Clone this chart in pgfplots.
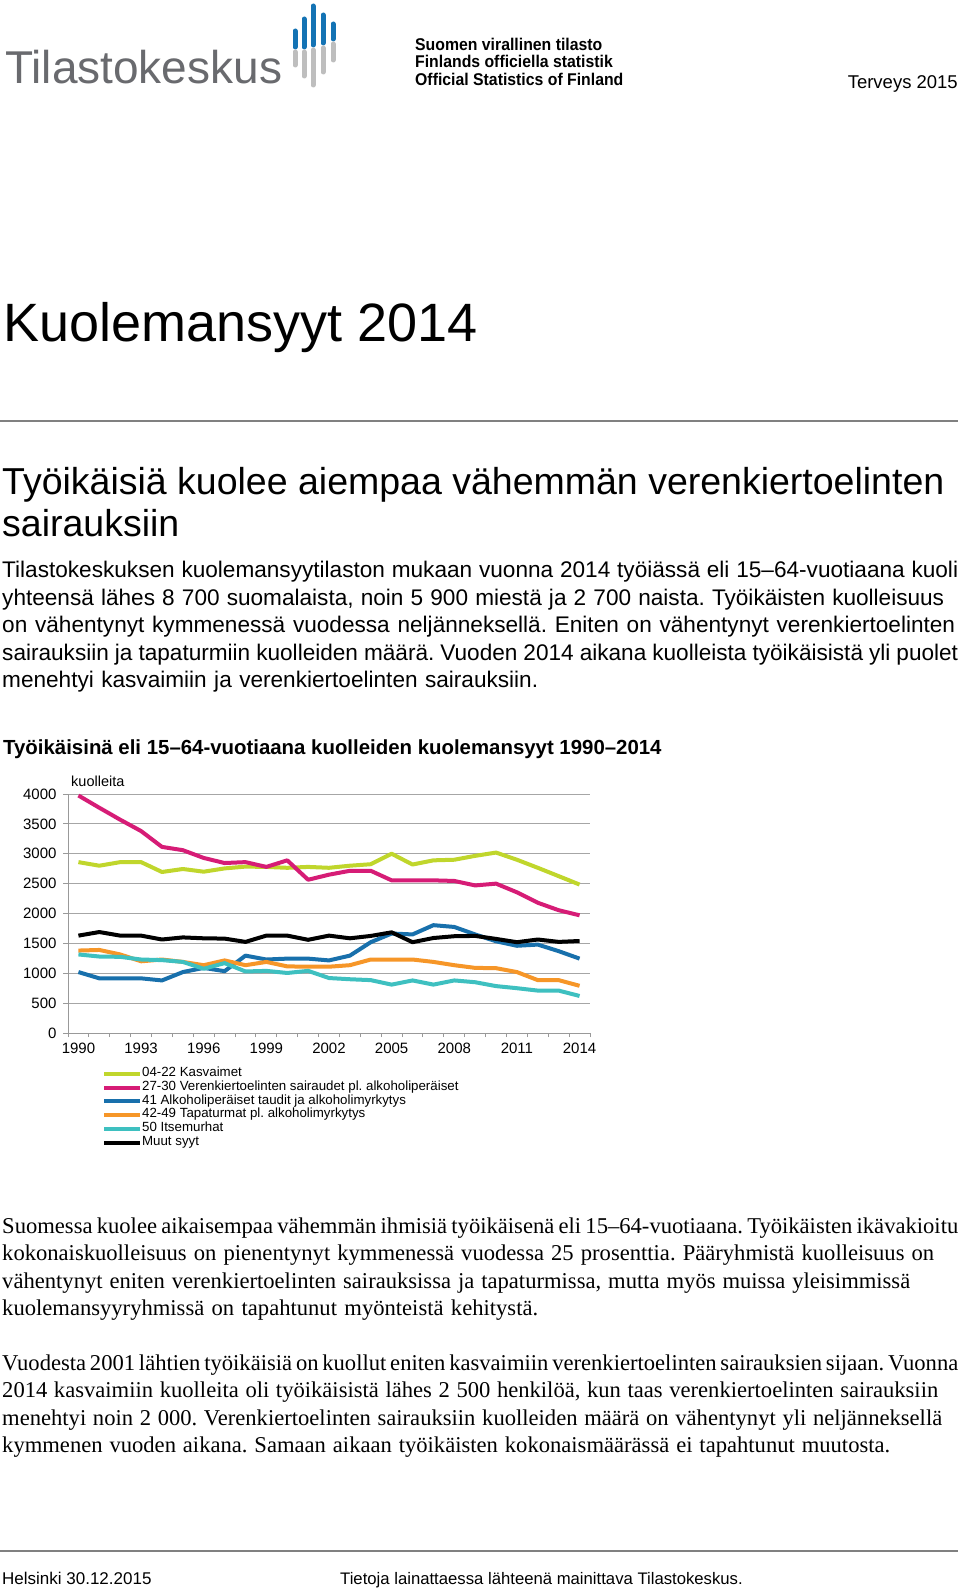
\documentclass[border=0pt]{standalone}
\usepackage{fontspec}
\setmainfont{Liberation Sans}
\newfontfamily\serif{Liberation Serif}
\usepackage{pgfplots}
\pgfplotsset{compat=1.18}
\usepackage{pgfplotstable}
\definecolor{cgreen}{RGB}{192,214,44}
\definecolor{cmag}{RGB}{214,28,118}
\definecolor{cblue}{RGB}{24,112,172}
\definecolor{corange}{RGB}{246,150,40}
\definecolor{cteal}{RGB}{62,192,192}
\definecolor{logoblue}{RGB}{20,115,180}
\definecolor{logogray}{RGB}{190,190,190}
\definecolor{txtgray}{RGB}{105,106,110}
\newcommand\jl[2]{\hbox to #1pt{\spaceskip=0.25em plus 0.3em minus 0.12em\relax #2}}
\frenchspacing

\pgfplotstableread{
year kasv veren alko tapat itse muut
1990 2860 3975 1020 1380 1315 1630
1991 2800 3770 915 1390 1280 1690
1992 2860 3570 915 1315 1275 1630
1993 2860 3380 915 1200 1230 1630
1994 2695 3115 880 1230 1220 1565
1995 2745 3060 1020 1190 1190 1600
1996 2700 2930 1090 1135 1075 1585
1997 2755 2845 1035 1215 1170 1580
1998 2785 2860 1295 1135 1030 1525
1999 2780 2780 1230 1190 1040 1630
2000 2765 2890 1245 1115 1005 1630
2001 2780 2565 1245 1110 1040 1560
2002 2765 2650 1215 1110 920 1630
2003 2800 2715 1295 1135 900 1585
2004 2825 2715 1520 1230 885 1625
2005 3000 2555 1665 1230 810 1685
2006 2820 2555 1650 1230 880 1520
2007 2890 2555 1805 1190 810 1590
2008 2900 2545 1775 1135 880 1620
2009 2965 2470 1650 1090 850 1625
2010 3020 2500 1535 1085 785 1575
2011 2900 2355 1460 1020 750 1520
2012 2765 2180 1480 885 710 1565
2013 2625 2055 1370 885 710 1525
2014 2485 1970 1245 790 620 1540
}\datatable

\begin{document}
\begin{tikzpicture}[x=1pt,y=1pt]
\path[fill=white,use as bounding box] (0,0) rectangle (960,-1592);

% logo
\node[anchor=base west,inner sep=0,text=txtgray,font=\fontsize{46}{46}\selectfont] at (5,-84) {Tilastokeskus};
\foreach \xx/\bt/\bb/\gb in {295/31/47/65, 304/19/47/76, 313/6/45/85, 323/15/43/72, 333/24/39/60}{
  \draw[logoblue,line width=5pt,line cap=round] (\xx,-\bt) -- (\xx,-\bb);
  \draw[logogray,line width=5pt,line cap=round] (\xx,-\bb-5) -- (\xx,-\gb);
}
\node[anchor=base west,inner sep=0,xscale=0.93,font=\fontsize{17}{17}\selectfont\bfseries] at (415,-51) {Suomen virallinen tilasto};
\node[anchor=base west,inner sep=0,xscale=0.93,font=\fontsize{17}{17}\selectfont\bfseries] at (415,-68) {Finlands officiella statistik};
\node[anchor=base west,inner sep=0,xscale=0.93,font=\fontsize{17}{17}\selectfont\bfseries] at (415,-86) {Official Statistics of Finland};
\node[anchor=base east,inner sep=0,font=\fontsize{18.5}{18.5}\selectfont] at (958,-89) {Terveys 2015};

% title
\node[anchor=base west,inner sep=0,font=\fontsize{54}{54}\selectfont] at (3,-341) {Kuolemansyyt 2014};
\draw[gray,line width=1.2pt] (0,-421) -- (958,-421);

\node[anchor=base west,inner sep=0,font=\fontsize{37.5}{37.5}\selectfont] at (2,-494) {Työikäisiä kuolee aiempaa vähemmän verenkiertoelinten};
\node[anchor=base west,inner sep=0,font=\fontsize{37.5}{37.5}\selectfont] at (2,-536) {sairauksiin};

\begin{scope}[every node/.style={anchor=base west,inner sep=0,font=\fontsize{22.6}{22.6}\selectfont}]
\node at (2,-577) {\jl{956}{Tilastokeskuksen kuolemansyytilaston mukaan vuonna 2014 työiässä eli 15–64-vuotiaana kuoli}};
\node at (2,-605) {\jl{942}{yhteensä lähes 8 700 suomalaista, noin 5 900 miestä ja 2 700 naista. Työikäisten kuolleisuus}};
\node at (2,-632) {\jl{953}{on vähentynyt kymmenessä vuodessa neljänneksellä. Eniten on vähentynyt verenkiertoelinten}};
\node at (2,-660) {\jl{956}{sairauksiin ja tapaturmiin kuolleiden määrä. Vuoden 2014 aikana kuolleista työikäisistä yli puolet}};
\node at (2,-687) {\jl{536}{menehtyi kasvaimiin ja verenkiertoelinten sairauksiin.}};
\end{scope}

\node[anchor=base west,inner sep=0,font=\fontsize{20.4}{20.4}\selectfont\bfseries] at (3,-754) {Työikäisinä eli 15–64-vuotiaana kuolleiden kuolemansyyt 1990–2014};
\node[anchor=base west,inner sep=0,font=\fontsize{14.5}{14.5}\selectfont] at (71,-786) {kuolleita};

\begin{axis}[
  at={(68pt,-1033pt)}, anchor=south west,
  scale only axis, width=522pt, height=239pt,
  xmin=1989.5, xmax=2014.5, ymin=0, ymax=4000,
  axis x line*=bottom, axis y line*=left,
  axis line style={draw=gray!80, line width=1pt},
  ytick={0,500,...,4000},
  ymajorgrids, grid style={gray!70, line width=1pt},
  xtick={1990,1993,...,2014},
  minor xtick={1989.5,1990.5,...,2014.5},
  major x tick style={draw=none},
  minor tick length=4pt,
  minor x tick style={gray!80, line width=1pt},
  major tick length=5pt,
  y tick style={gray!80, line width=1pt},
  tick align=outside,
  xticklabel style={/pgf/number format/1000 sep={}},
  yticklabel style={/pgf/number format/1000 sep={}},
  /pgf/number format/assume math mode=true,
  tick label style={font=\fontsize{15}{15}\selectfont},
  xticklabel style={yshift=-1pt},
  yticklabel style={xshift=-3pt},
  clip=false,
  legend style={at={(rel axis cs:0.065,-0.142)}, anchor=north west, draw=none, fill=none,
     font=\fontsize{13.3}{13.3}\selectfont, inner sep=0pt, row sep=0pt,
     nodes={inner sep=0pt, text height=9.7pt, text depth=4pt}},
  legend cell align=left,
  legend image code/.code={\draw[#1, line width=4pt] (0pt,0pt) -- (36pt,0pt);},
  every axis plot/.append style={line width=4pt, line join=round},
]
\addplot[cgreen, mark=none] table[x=year,y=kasv] {\datatable};
\addplot[cmag, mark=none] table[x=year,y=veren] {\datatable};
\addplot[cblue, mark=none] table[x=year,y=alko] {\datatable};
\addplot[corange, mark=none] table[x=year,y=tapat] {\datatable};
\addplot[cteal, mark=none] table[x=year,y=itse] {\datatable};
\addplot[black, mark=none] table[x=year,y=muut] {\datatable};
\legend{04-22 Kasvaimet,27-30 Verenkiertoelinten sairaudet pl. alkoholiperäiset,41 Alkoholiperäiset taudit ja alkoholimyrkytys,42-49 Tapaturmat pl. alkoholimyrkytys,50 Itsemurhat,Muut syyt}
\end{axis}

\begin{scope}[every node/.style={anchor=base west,inner sep=0,font=\serif\fontsize{22.6}{22.6}\selectfont}]
\node at (2,-1233) {\jl{956}{Suomessa kuolee aikaisempaa vähemmän ihmisiä työikäisenä eli 15–64-vuotiaana. Työikäisten ikävakioitu}};
\node at (2,-1260) {\jl{932}{kokonaiskuolleisuus on pienentynyt kymmenessä vuodessa 25 prosenttia. Pääryhmistä kuolleisuus on}};
\node at (2,-1288) {\jl{908}{vähentynyt eniten verenkiertoelinten sairauksissa ja tapaturmissa, mutta myös muissa yleisimmissä}};
\node at (2,-1315) {\jl{536}{kuolemansyyryhmissä on tapahtunut myönteistä kehitystä.}};
\node at (2,-1370) {\jl{956}{Vuodesta 2001 lähtien työikäisiä on kuollut eniten kasvaimiin verenkiertoelinten sairauksien sijaan. Vuonna}};
\node at (2,-1397) {\jl{936}{2014 kasvaimiin kuolleita oli työikäisistä lähes 2 500 henkilöä, kun taas verenkiertoelinten sairauksiin}};
\node at (2,-1425) {\jl{940}{menehtyi noin 2 000. Verenkiertoelinten sairauksiin kuolleiden määrä on vähentynyt yli neljänneksellä}};
\node at (2,-1452) {\jl{888}{kymmenen vuoden aikana. Samaan aikaan työikäisten kokonaismäärässä ei tapahtunut muutosta.}};
\end{scope}

\draw[gray,line width=1.2pt] (0,-1551) -- (958,-1551);
\node[anchor=base west,inner sep=0,font=\fontsize{17}{17}\selectfont] at (2,-1584) {Helsinki 30.12.2015};
\node[anchor=base west,inner sep=0,font=\fontsize{16.7}{16.7}\selectfont] at (340,-1584) {Tietoja lainattaessa lähteenä mainittava Tilastokeskus.};
\end{tikzpicture}
\end{document}
